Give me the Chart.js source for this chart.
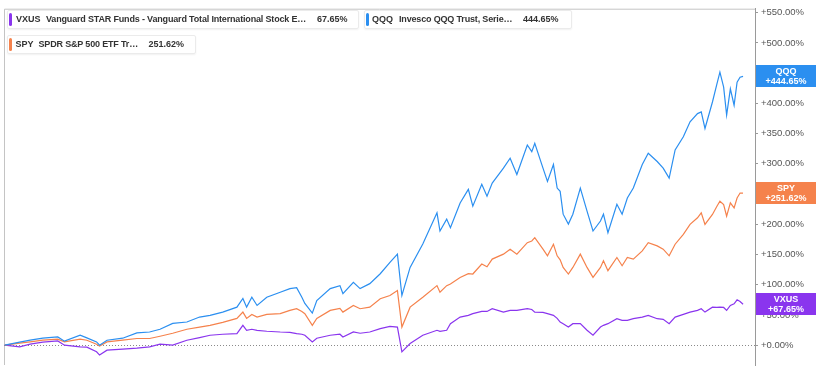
<!DOCTYPE html>
<html>
<head>
<meta charset="UTF-8">
<title>VXUS / QQQ / SPY total return</title>
<script src="https://cdn.jsdelivr.net/npm/chart.js@4.4.1/dist/chart.umd.min.js"></script>
<style>
  body { margin:0; background:#fff; font-family:"Liberation Sans", Arial, sans-serif; }
  #wrap { position:relative; width:816px; height:376px; }
  .leg { position:absolute; height:17px; background:#fff; border:1px solid #ebebeb; border-radius:2px;
         box-shadow:0 1px 2px rgba(0,0,0,0.06); font-size:9px; font-weight:bold; color:#333; }
  .leg span { position:absolute; top:3px; white-space:nowrap; }
  .leg span.nm { letter-spacing:-0.17px; }
  .leg i { position:absolute; left:1px; top:2px; bottom:2px; width:3px; border-radius:2px; }
</style>
</head>
<body>
<div id="wrap">
  <canvas id="myChart"></canvas>
</div>

<script>
// time axis (decimal years), hidden in the picture
let dates = [2014.93,2015.13,2015.27,2015.44,2015.64,2015.73,2015.94,2016.03,2016.16,2016.20,
  2016.30,2016.51,2016.70,2016.87,2017.01,2017.18,2017.37,2017.54,2017.68,2017.85,
  2018.04,2018.12,2018.17,2018.24,2018.31,2018.44,2018.62,2018.75,2018.84,2018.91,
  2018.95,2019.05,2019.11,2019.29,2019.42,2019.46,2019.60,2019.69,2019.82,2019.96,
  2020.09,2020.19,2020.25,2020.36,2020.53,2020.72,2020.76,2020.85,2020.90,2021.03,
  2021.14,2021.20,2021.32,2021.39,2021.46,2021.61,2021.70,2021.79,2021.93,2021.99,
  2022.03,2022.14,2022.20,2022.28,2022.33,2022.37,2022.41,2022.48,2022.54,2022.64,
  2022.73,2022.81,2022.91,2022.95,2023.01,2023.13,2023.20,2023.27,2023.35,2023.47,
  2023.55,2023.67,2023.75,2023.83,2023.91,2024.02,2024.11,2024.21,2024.26,2024.31,
  2024.41,2024.47,2024.51,2024.56,2024.60,2024.65,2024.70,2024.74,2024.78,2024.82];

// cumulative return, %
let qqq = [0,4.9,8.2,11.5,13.6,6.6,16.4,12.0,5.4,0,
  8.2,11.5,20.2,21.8,26.3,36.1,38.3,46.5,49.3,54.7,
  62.9,77.2,62.9,79.3,65.7,79.3,87.5,93.6,95.2,79.3,
  69.0,53.0,73.9,93.6,98.5,85.4,103.9,93.6,101.8,118.2,
  136.8,150.6,82.1,128.6,167.5,218.9,188.8,208.5,194.2,235.3,
  257.8,229.9,266.0,246.3,268.1,292.8,309.2,282.4,331.2,320.2,
  333.8,292.8,270.9,298.8,259.9,254.5,216.7,200.3,216.7,259.9,
  221.7,188.8,205.3,216.7,186.0,233.2,216.7,243.5,259.9,298.8,
  317.4,303.8,292.8,276.4,323.0,344.8,369.5,383.1,385.9,358.5,
  402.3,432.3,451.6,426.9,380.5,424.1,396.9,435.1,443.3,444.65];

let spy = [0,3.3,5.4,8.2,9.9,5.4,9.9,8.2,1.6,-1.6,
  5.4,8.2,11.0,11.0,14.8,19.7,26.3,30.0,32.8,37.8,
  44.3,54.7,44.3,50.9,46.5,50.9,52.1,57.5,60.3,55.8,
  52.1,32.8,44.3,57.5,60.8,54.7,65.7,60.3,62.9,76.7,
  82.1,90.3,30.0,62.9,79.3,98.5,87.5,98.5,101.3,112.1,
  118.2,117.7,134.2,129.7,142.4,150.6,158.8,150.6,169.6,172.4,
  177.8,158.8,147.8,167.0,147.8,141.2,128.6,117.7,128.6,150.6,
  128.6,112.1,128.6,139.6,123.2,145.0,131.4,145.0,142.4,156.0,
  169.6,164.2,158.8,147.8,167.0,183.4,199.8,210.7,218.9,199.8,
  216.3,229.9,238.1,232.7,213.5,235.3,227.1,243.5,251.7,251.62];

let vxus = [0,-2.8,1.6,4.9,7.1,0,-2.8,-3.3,-11.0,-16.4,
  -8.2,-6.6,-4.9,-2.8,1.6,0,8.2,12.6,16.4,18.1,
  19.2,32.8,24.6,26.3,24.6,23.0,21.8,21.3,19.2,18.1,
  16.4,5.4,11.5,16.4,18.1,13.6,21.8,19.7,21.8,27.4,
  31.2,30.0,-11.0,2.8,16.4,24.6,23.0,24.6,35.6,46.5,
  49.3,52.1,55.8,55.8,60.3,54.7,57.5,57.5,60.3,59.1,
  54.7,54.2,52.1,49.3,44.3,38.3,35.6,30.0,35.6,35.6,
  24.6,16.4,30.0,32.8,35.6,43.8,41.1,41.1,43.8,46.5,
  49.3,43.8,42.7,35.6,46.5,50.9,54.7,57.5,60.3,54.7,
  62.9,62.4,62.9,62.4,57.5,65.7,68.5,75.0,72.2,67.65];

let tickers = ["VXUS", "QQQ", "SPY"];
let names = ["Vanguard STAR Funds - Vanguard Total International Stock E\u2026",
             "Invesco QQQ Trust, Serie\u2026",
             "SPDR S&P 500 ETF Tr\u2026"];
let yTicks = [0, 50, 100, 150, 200, 250, 300, 350, 400, 450, 500, 550];

let colors = { VXUS: "#8a35ee", QQQ: "#2b8ff0", SPY: "#f5824c" };
let series = { VXUS: vxus, QQQ: qqq, SPY: spy };

function pts(arr) {
  return arr.map(function (v, i) { return { x: dates[i], y: v }; });
}
function pct(v) { return v.toFixed(2) + "%"; }

// legend boxes at the top (html)
let legendPos = [
  { left: 7,   top: 10, width: 350, t: 8,   n: 38,  v: 309 },
  { left: 364, top: 10, width: 206, t: 7,   n: 34,  v: 158 },
  { left: 7,   top: 35, width: 187, t: 7.5, n: 30.5, v: 140.5 }
];
let wrap = document.getElementById("wrap");
tickers.forEach(function (tk, i) {
  let p = legendPos[i];
  let d = document.createElement("div");
  d.className = "leg";
  d.style.left = p.left + "px"; d.style.top = p.top + "px"; d.style.width = p.width + "px";
  let arr = series[tk];
  d.innerHTML = '<i style="background:' + colors[tk] + '"></i>' +
    '<span style="left:' + p.t + 'px">' + tk + '</span>' +
    '<span class="nm" style="left:' + p.n + 'px">' + names[i] + '</span>' +
    '<span style="left:' + p.v + 'px">' + pct(arr[arr.length - 1]) + '</span>';
  wrap.appendChild(d);
});

// frame, zero line and end-value badges
let extras = {
  id: "extras",
  beforeDatasetsDraw: function (chart) {
    let ctx = chart.ctx, a = chart.chartArea;
    let y0 = chart.scales.y.getPixelForValue(0);
    ctx.save();
    ctx.strokeStyle = "#c4c4c4";
    ctx.lineWidth = 1;
    ctx.beginPath();
    ctx.moveTo(a.left + 0.5, a.bottom);
    ctx.lineTo(a.left + 0.5, a.top + 0.5);
    ctx.lineTo(a.right, a.top + 0.5);
    ctx.stroke();
    ctx.strokeStyle = "#8a8a8a";
    ctx.setLineDash([1, 2]);
    ctx.beginPath();
    ctx.moveTo(a.left, Math.round(y0) + 0.5);
    ctx.lineTo(a.right, Math.round(y0) + 0.5);
    ctx.stroke();
    ctx.restore();
  },
  afterDraw: function (chart) {
    let ctx = chart.ctx, a = chart.chartArea;
    ctx.save();
    ctx.font = 'bold 9px "Liberation Sans", Arial, sans-serif';
    ctx.textAlign = "center";
    ctx.textBaseline = "middle";
    chart.data.datasets.forEach(function (ds) {
      let last = ds.data[ds.data.length - 1].y;
      let py = chart.scales.y.getPixelForValue(last);
      let x0 = a.right + 1;
      let w = chart.width - x0;
      ctx.fillStyle = ds.borderColor;
      ctx.fillRect(x0, Math.round(py) - 11, w, 22);
      ctx.fillStyle = "#fff";
      ctx.fillText(ds.label, x0 + w / 2, py - 5);
      ctx.fillText("+" + pct(last), x0 + w / 2, py + 5.5);
    });
    ctx.restore();
  }
};

new Chart("myChart", {
  type: "line",
  data: {
    datasets: ["QQQ", "SPY", "VXUS"].map(function (tk) {
      return {
        label: tk,
        data: pts(series[tk]),
        borderColor: colors[tk],
        borderWidth: 1.2,
        pointRadius: 0,
        tension: 0
      };
    })
  },
  options: {
    responsive: true,
    maintainAspectRatio: false,
    animation: false,
    layout: { padding: { left: 4, top: 6, bottom: 11, right: 0 } },
    plugins: { legend: { display: false }, tooltip: { enabled: false } },
    scales: {
      x: { type: "linear", min: 2014.92, max: 2024.98, display: false },
      y: {
        position: "right",
        min: -32.8,
        max: 556.6,
        afterBuildTicks: function (scale) {
          scale.ticks = yTicks.map(function (v) { return { value: v }; });
        },
        afterFit: function (scale) { scale.width = 61; },
        border: { display: true, color: "#9a9a9a" },
        grid: { drawOnChartArea: false, tickLength: 3, color: "#9a9a9a" },
        ticks: {
          padding: 3,
          color: "#555",
          font: { family: '"Liberation Sans", Arial, sans-serif', size: 9.5 },
          callback: function (v) { return "+" + pct(v); }
        }
      }
    }
  },
  plugins: [extras]
});
</script>
</body>
</html>
